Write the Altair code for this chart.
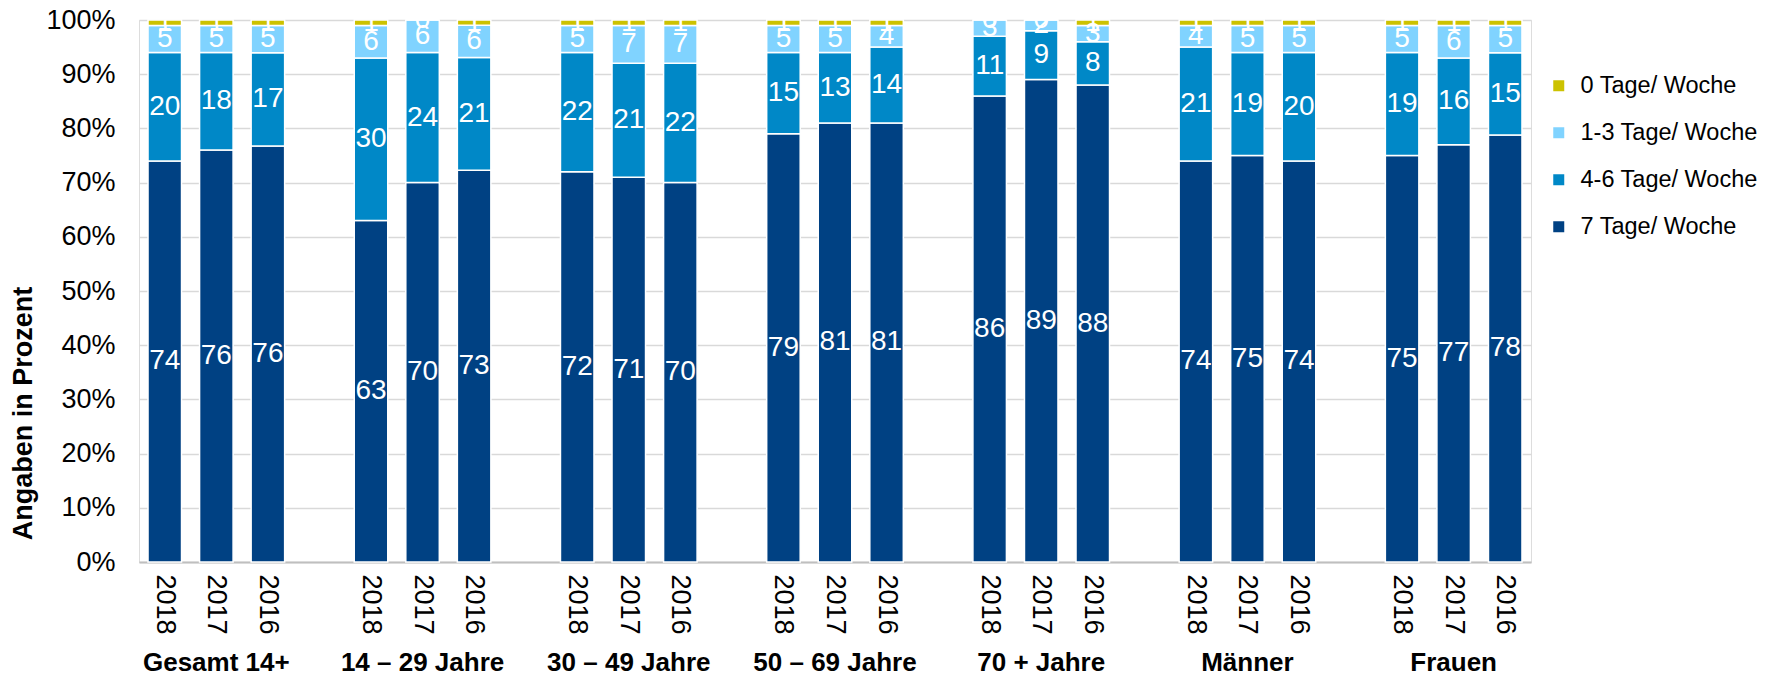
import altair as alt
import pandas as pd

groups = ["Gesamt 14+", "14 – 29 Jahre", "30 – 49 Jahre", "50 – 69 Jahre",
          "70 + Jahre", "Männer", "Frauen"]
years = ["2018", "2017", "2016"]

series = ["7 Tage/ Woche", "4-6 Tage/ Woche", "1-3 Tage/ Woche", "0 Tage/ Woche"]
tage7 = [74, 76, 76, 63, 70, 73, 72, 71, 70, 79, 81, 81, 86, 89, 88, 74, 75, 74, 75, 77, 78]
tage46 = [20, 18, 17, 30, 24, 21, 22, 21, 22, 15, 13, 14, 11, 9, 8, 21, 19, 20, 19, 16, 15]
tage13 = [5, 5, 5, 6, 6, 6, 5, 7, 7, 5, 5, 4, 3, 2, 3, 4, 5, 5, 5, 6, 5]
tage0 = [1, 1, 1, 1, 0, 1, 1, 1, 1, 1, 1, 1, 0, 0, 1, 1, 1, 1, 1, 1, 1]

legend_order = ["0 Tage/ Woche", "1-3 Tage/ Woche", "4-6 Tage/ Woche", "7 Tage/ Woche"]
legend_colors = ["#CCC200", "#80D3FF", "#0088C7", "#004183"]

FONT = "Liberation Sans"

rows = []
domain = []
glabels = []
for gi, g in enumerate(groups):
    if gi > 0:
        domain.append(f"gap{gi}")
    for yi, y in enumerate(years):
        key = f"{gi}|{y}"
        domain.append(key)
        i = gi * 3 + yi
        for si, (s, vals) in enumerate(zip(series, [tage7, tage46, tage13, tage0])):
            rows.append(dict(key=key, series=s, order=si, value=vals[i], label=str(vals[i])))
    glabels.append(dict(key=f"{gi}|2017", name=g))

df = pd.DataFrame(rows)
gdf = pd.DataFrame(glabels)

xscale = alt.Scale(domain=domain, paddingInner=0.35, paddingOuter=0.175)

xaxis = alt.Axis(
    title=None,
    labelExpr="indexof(datum.value, '|') >= 0 ? split(datum.value, '|')[1] : ''",
    labelAngle=90, labelFontSize=27, labelFont=FONT, labelColor="black",
    labelPadding=12, labelOverlap=False, ticks=False, grid=False,
    domainColor="#BFBFBF", domainWidth=2,
)

yaxis = alt.Axis(
    format=".0%", values=[i / 10 for i in range(11)],
    labelFontSize=27, labelFont=FONT, labelColor="black", labelPadding=24,
    ticks=False, domain=False, gridColor="#D9D9D9", gridWidth=1.5,
    title="Angaben in Prozent", titleFontSize=27, titleFont=FONT,
    titleFontWeight="bold", titleColor="black",
    titleX=-116, titleY=393, titleAlign="center", titleBaseline="middle",
)

base = alt.Chart(df).transform_stack(
    stack="value", groupby=["key"], as_=["y0", "y1"], offset="normalize",
    sort=[alt.SortField("order", order="ascending")],
).transform_calculate(mid="(datum.y0 + datum.y1) / 2")

bars = base.mark_bar(stroke="white", strokeWidth=1.5).encode(
    x=alt.X("key:N", scale=xscale, axis=xaxis, sort=domain),
    y=alt.Y("y0:Q", scale=alt.Scale(domain=[0, 1]), axis=yaxis),
    y2="y1:Q",
    color=alt.Color(
        "series:N",
        scale=alt.Scale(domain=legend_order, range=legend_colors),
        legend=alt.Legend(
            title=None, orient="none", legendX=1408, legendY=54,
            symbolType="square", symbolSize=121, symbolStrokeWidth=0,
            labelFontSize=23.5, labelFont=FONT, labelColor="black",
            labelOffset=10, rowPadding=22, labelLimit=400,
        ),
    ),
)

text = base.mark_text(
    color="white", fontSize=28, font=FONT, baseline="middle", clip=True
).encode(
    x=alt.X("key:N", scale=xscale, axis=xaxis, sort=domain),
    y=alt.Y("mid:Q", scale=alt.Scale(domain=[0, 1]), axis=yaxis),
    text="label:N",
)

grp = alt.Chart(gdf).mark_text(
    fontSize=26, font=FONT, fontWeight="bold", color="black", baseline="alphabetic"
).encode(
    x=alt.X("key:N", scale=xscale, axis=xaxis, sort=domain),
    y=alt.value(651),
    text="name:N",
)

chart = alt.layer(bars, text, grp).properties(
    width=1392, height=542,
    autosize=alt.AutoSizeParams(type="none"),
    padding={"left": 131, "top": 12, "right": 240, "bottom": 112},
).configure_view(stroke=None).configure(background="white")

chart.save("out.html", embed_options={"renderer": "svg", "actions": False})
